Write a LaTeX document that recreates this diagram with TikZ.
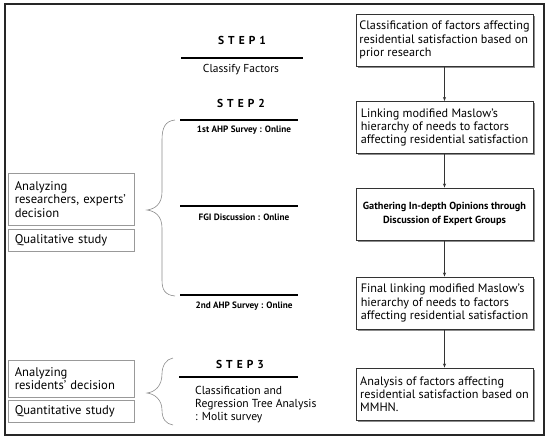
\documentclass[tikz,border=0pt]{standalone}
\usepackage{fontspec}
\setmainfont{PT Sans}
\usetikzlibrary{arrows.meta,shadows}
\begin{document}
\begin{tikzpicture}[x=1pt,y=-1pt,
  rbox/.style={draw=black!80,line width=0.9pt,fill=white,inner sep=0pt,
    minimum width=177,minimum height=52,font=\fontsize{12.2}{13.2}\selectfont,
    drop shadow={shadow xshift=1.8pt,shadow yshift=-1.8pt,fill=black!45,opacity=1}},
  lbox/.style={draw=black!40,line width=0.6pt,inner ysep=0pt,inner xsep=6.5pt,anchor=north west,
    text width=113,align=left,font=\fontsize{12.6}{13.5}\selectfont},
  steplbl/.style={font=\bfseries\addfontfeature{LetterSpace=35}\fontsize{11.5}{12}\selectfont},
  sublbl/.style={font=\bfseries\fontsize{9.2}{10}\selectfont},
  rule/.style={line width=1.1pt,black},
  brace/.style={draw=black!45,line width=0.6pt},
  flow/.style={-{Stealth[length=4pt,width=3pt]},line width=0.7pt,black!80}]
\useasboundingbox (0,0) rectangle (550,440);
\draw[line width=1.4pt,black!85] (5,4) rectangle (544,435);

% right boxes
\node[rbox,align=left] (b1) at (444.5,40) {Classification of factors affecting\\residential satisfaction based on\\prior research};
\node[rbox,align=left] (b2) at (444.5,127.5) {Linking modified Maslow's\\hierarchy of needs to factors\\affecting residential satisfaction};
\node[rbox,align=center,font=\bfseries\fontsize{10.3}{14}\selectfont] (b3) at (444.5,214) {Gathering In-depth Opinions through\\Discussion of Expert Groups};
\node[rbox,align=left] (b4) at (444.5,303) {Final linking modified Maslow's\\hierarchy of needs to factors\\affecting residential satisfaction};
\node[rbox,align=left] (b5) at (444.5,394) {Analysis of factors affecting\\residential satisfaction based on\\MMHN.};
\draw[flow] (b1) -- (b2);
\draw[flow] (b2) -- (b3);
\draw[flow] (b3) -- (b4);
\draw[flow] (b4) -- (b5);

% steps
\node[steplbl] (s1) at (242,40) {STEP1};
\draw[rule] (181,58) -- (303,58);
\node[font=\fontsize{11.5}{12}\selectfont] (c1) at (241,70) {Classify Factors};
\node[steplbl] (s2) at (241,103) {STEP2};
\draw[rule] (180,120) -- (298,120);
\node[sublbl] (a1) at (244,130) {1st AHP Survey : Online};
\draw[rule] (180,206) -- (298,206);
\node[sublbl] (f1) at (244,217) {FGI Discussion : Online};
\draw[rule] (180,295) -- (298,295);
\node[sublbl] (a2) at (244,306) {2nd AHP Survey : Online};
\node[steplbl] (s3) at (240,364) {STEP3};
\draw[rule] (179,377) -- (298,377);
\node[anchor=north west,align=left,inner sep=0pt,font=\fontsize{11.6}{13}\selectfont] (c3) at (195,386) {Classification and\\Regression Tree Analysis\\: Molit survey};

% braces
\draw[brace] (175,120) .. controls (165,121) and (162,128) .. (162,140) -- (162,192)
  .. controls (162,204) and (155,209) .. (147,210)
  .. controls (155,211) and (162,216) .. (162,228) -- (162,280)
  .. controls (162,290) and (165,295) .. (175,296);
\draw[brace] (173,358) .. controls (166,359) and (162,366) .. (162,374)
  .. controls (162,386) and (155,392) .. (147,393)
  .. controls (155,394) and (162,400) .. (162,410)
  .. controls (162,419) and (166,424) .. (173,425);

% left boxes
\node[lbox,minimum height=52] (l1) at (8,173) {Analyzing\\researchers, experts'\\decision};
\node[lbox,minimum height=22] (l2) at (8,229) {Qualitative study};
\node[lbox,minimum height=37] (l3) at (8,360) {Analyzing\\residents' decision};
\node[lbox,minimum height=22] (l4) at (8,400) {Quantitative study};
\end{tikzpicture}
\end{document}
